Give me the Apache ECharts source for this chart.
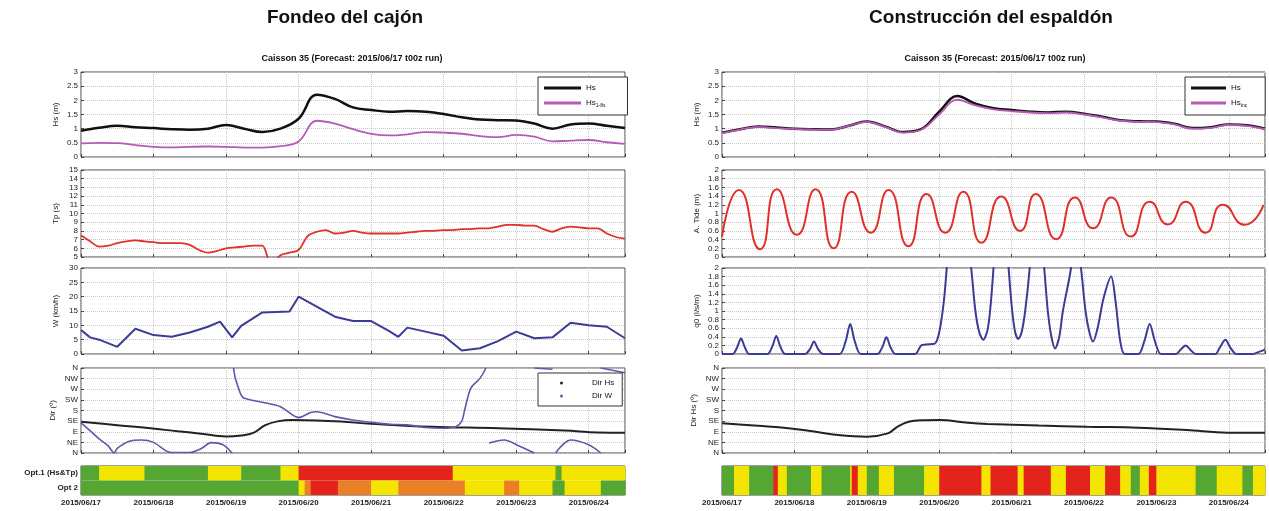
<!DOCTYPE html>
<html>
<head>
<meta charset="utf-8">
<script src="https://cdn.jsdelivr.net/npm/echarts@6/dist/echarts.min.js"></script>
<style>
html, body { margin: 0; padding: 0; background: #fff; }
#main { width: 1269px; height: 511px; }
</style>
</head>
<body>
<div id="main"></div>
<script>
// time in hours since 2015/06/17 00z
var dayLabels = ['2015/06/17', '2015/06/18', '2015/06/19', '2015/06/20', '2015/06/21', '2015/06/22', '2015/06/23', '2015/06/24'];
var dirLabels = ['N', 'NE', 'E', 'SE', 'S', 'SW', 'W', 'NW', 'N'];

var hours6 = [0, 6, 12, 18, 24, 30, 36, 42, 48, 54, 60, 66, 72, 78, 84, 90, 96, 102, 108, 114, 120, 126, 132, 138, 144, 150, 156, 162, 168, 174, 180];
var hours3 = [0, 3, 6, 9, 12, 15, 18, 21, 24, 27, 30, 33, 36, 39, 42, 45, 48, 51, 54, 57, 60, 63, 66, 69, 72, 75, 78, 81, 84, 87,
    90, 93, 96, 99, 102, 105, 108, 111, 114, 117, 120, 123, 126, 129, 132, 135, 138, 141, 144, 147, 150, 153, 156, 159, 162, 165, 168, 171, 174, 177, 180];

// Fondeo del cajon
var hsLeft = [0.93, 1.03, 1.1, 1.05, 1.02, 0.98, 0.96, 1.0, 1.13, 1.0, 0.88, 1.0, 1.35, 2.2, 2.05, 1.75, 1.66, 1.6, 1.62, 1.6, 1.52, 1.4, 1.32, 1.3, 1.29, 1.18, 1.0, 1.15, 1.18, 1.1, 1.02];
var hsLowLeft = [0.48, 0.5, 0.49, 0.42, 0.36, 0.34, 0.36, 0.37, 0.36, 0.33, 0.33, 0.38, 0.55, 1.28, 1.18, 0.98, 0.82, 0.76, 0.8, 0.88, 0.86, 0.82, 0.74, 0.7, 0.78, 0.72, 0.55, 0.58, 0.6, 0.52, 0.46];
var tpLeft = [7.5, 6.8, 6.2, 6.3, 6.6, 6.8, 6.9, 6.8, 6.7, 6.6, 6.6, 6.6, 6.4, 5.8, 5.5, 5.7, 6.0, 6.1, 6.2, 6.3,
    6.3, 4.0, 5.2, 5.5, 5.8, 7.4, 7.9, 8.1, 7.7, 7.8, 8.0, 7.8, 7.7, 7.7, 7.7, 7.7, 7.8, 7.9, 8.0, 8.0,
    8.1, 8.1, 8.2, 8.2, 8.3, 8.3, 8.5, 8.7, 8.7, 8.6, 8.6, 8.2, 7.9, 8.3, 8.5, 8.4, 8.3, 8.3, 7.7, 7.3, 7.1];
var windHours = [0, 3, 6, 12, 18, 24, 30, 36, 42, 46, 50, 53, 60, 69, 72, 78, 84, 90, 96, 102, 105, 108, 114, 120, 126, 132, 138, 144, 150, 156, 162, 168, 174, 180];
var windSpeed = [8.4, 5.8, 5.0, 2.5, 8.8, 6.6, 6.0, 7.5, 9.5, 11.3, 5.8, 9.8, 14.5, 14.8, 20.0, 16.5, 13.0, 11.5, 11.5, 8.0, 6.0, 9.2, 7.8, 6.4, 1.2, 2.0, 4.5, 7.8, 5.5, 5.8, 10.9, 10.0, 9.5, 5.5];
var dirHsLeftHours = [0, 12, 23, 32, 39, 48, 53, 57, 61, 65, 70, 78, 86, 96, 116, 138, 160, 171, 180];
var dirHsLeft = [132, 118, 105, 92, 83, 70, 74, 85, 118, 134, 140, 138, 133, 124, 111, 105, 95, 87, 86];
var dirWHours = [0, 3, 6, 9, 11, 12, 16, 20, 24, 28, 30, 36, 40, 43, 47, 50, 50, 50.5, 51, 52, 53, 54, 60, 66, 72, 76, 78, 84, 90, 96, 102, 108, 114, 120, 124, 126, 127, 129, 132, 134,
    134, 135, 140, 145, 150, 150, 150, 156, 156, 157, 162, 168, 172, 172, 172, 180];
var dirW = [128, 95, 60, 30, 0, 20, 50, 55, 45, 10, 2, 2, 20, 44, 35, 0, null, 360, 320, 280, 245, 232, 215, 196, 150, 172, 175, 154, 140, 130, 122, 119, 108, 105, 111, 135, 185, 275, 316, 360,
    null, 42, 55, 30, 0, null, 360, 355, null, 0, 55, 35, 0, null, 360, 340];

// Construccion del espaldon
var hsRight = [0.86, 0.98, 1.08, 1.04, 1.0, 0.98, 0.97, 1.1, 1.25, 1.08, 0.88, 0.98, 1.6, 2.15, 1.88, 1.72, 1.66, 1.6, 1.57, 1.6, 1.53, 1.42, 1.3, 1.26, 1.25, 1.17, 1.02, 1.05, 1.15, 1.12, 1.0];
var hsIncRight = [0.84, 0.97, 1.06, 1.02, 0.99, 0.97, 0.96, 1.1, 1.24, 1.06, 0.86, 0.96, 1.5, 2.02, 1.82, 1.68, 1.62, 1.57, 1.55, 1.57, 1.5, 1.4, 1.28, 1.24, 1.23, 1.15, 1.0, 1.03, 1.13, 1.1, 0.98];
var tideHours = [0, 5.6, 12.6, 18.2, 24.8, 31, 37, 43, 49.3, 55.2, 61.8, 67.8, 74, 80, 86, 92.6, 98.8, 104, 110.8, 117, 123, 129, 135.5, 141.8, 147.8, 153.7, 160.3, 166, 173.3, 179.5];
var tide = [0.47, 1.54, 0.18, 1.56, 0.51, 1.56, 0.2, 1.5, 0.56, 1.54, 0.25, 1.45, 0.56, 1.5, 0.33, 1.39, 0.6, 1.45, 0.41, 1.37, 0.66, 1.37, 0.47, 1.27, 0.75, 1.27, 0.56, 1.2, 0.74, 1.2];
var q0Hours = [0, 3.5, 5, 6.3, 7.6, 9, 15, 16.7, 18, 19.3, 21, 27.5, 29.2, 30.5, 31.8, 33.5, 39, 41, 42.5, 44, 46, 51.5, 53.2, 54.5, 55.8, 57.5,
    64, 66, 67.5, 70.5, 72, 73.5, 74.5, 76, 78, 80, 82.6, 84, 85.3, 86.6, 88, 89, 90, 91.5, 92.5, 93.5, 95, 96.2, 97.2, 98.2, 99.3, 100.5, 102, 104, 106.8, 108,
    109.2, 110.4, 111.8, 113, 115.7, 117, 119, 120.5, 121.8, 123, 124.5, 126.5, 129, 130.5, 132, 133.5,
    138, 140, 141.8, 143.5, 145.5, 150.5, 152, 153.7, 155.5, 157, 163.5, 165, 166.9, 168.5, 170.5, 176, 178, 180];
var q0 = [0, 0, 0.15, 0.36, 0.15, 0, 0, 0.18, 0.42, 0.18, 0, 0, 0.12, 0.29, 0.12, 0, 0, 0.3, 0.7, 0.3, 0, 0, 0.17, 0.39, 0.17, 0,
    0, 0.2, 0.22, 0.24, 0.5, 1.2, 2.0, 3.5, 4.5, 3.5, 2.0, 1.0, 0.5, 0.33, 0.55, 1.1, 2.0, 3.5, 4, 3.5, 2.0, 1.0, 0.5, 0.35, 0.5, 1.0, 2.0, 4, 2.0, 1.0,
    0.4, 0.13, 0.4, 1.0, 2.0, 3, 2.0, 1.0, 0.5, 0.29, 0.6, 1.3, 1.8, 1.2, 0.3, 0,
    0, 0.3, 0.7, 0.3, 0, 0, 0.1, 0.2, 0.08, 0, 0, 0.15, 0.33, 0.15, 0, 0, 0.05, 0.1];
var dirHsRightHours = [0, 12, 22, 30, 38.5, 48, 55, 58, 61.8, 66, 72, 81.6, 88, 105, 121, 138, 154, 167.6, 180];
var dirHsRight = [126, 115, 105, 92, 76, 69, 83, 110, 132, 139, 140, 128, 123, 116, 111, 107, 97, 86, 86];

// status bars: [start h, end h, level] level 0 ok, 1 caution, 2 warning, 3 stop
var levelColors = ['#55a632', '#f3e500', '#e98026', '#e3231c'];
var optRowsLeft = ['Opt 2', 'Opt.1 (Hs&Tp)'];
var opt1Left = [[0, 6, 0], [6, 21, 1], [21, 42, 0], [42, 53, 1], [53, 66, 0], [66, 72, 1], [72, 123, 3], [123, 157, 1], [157, 159, 0], [159, 180, 1]];
var opt2Left = [[0, 72, 0], [72, 74, 1], [74, 76, 2], [76, 85, 3], [85, 96, 2], [96, 105, 1], [105, 127, 2], [127, 140, 1], [140, 145, 2], [145, 156, 1], [156, 160, 0], [160, 172, 1], [172, 180, 0]];
var optRight = [[0, 4, 0], [4, 9, 1], [9, 17, 0], [17, 18.5, 3], [18.5, 21.5, 1], [21.5, 29.5, 0], [29.5, 33, 1], [33, 42.5, 0], [42.5, 43, 1], [43, 45, 3], [45, 48, 1],
    [48, 52, 0], [52, 57, 1], [57, 67, 0], [67, 72, 1], [72, 86, 3], [86, 89, 1], [89, 98, 3], [98, 100, 1], [100, 109, 3], [109, 114, 1], [114, 122, 3],
    [122, 127, 1], [127, 132, 3], [132, 135.5, 1], [135.5, 138.5, 0], [138.5, 141.5, 1], [141.5, 144, 3], [144, 157, 1], [157, 164, 0], [164, 172.5, 1], [172.5, 176, 0], [176, 180, 1]];

function pairs(xs, ys) {
    return xs.map(function (x, i) { return ys[i] == null ? [x, '-'] : [x, ys[i]]; });
}
function segs(list, row) {
    return list.map(function (s) { return [s[0], s[1], row, s[2]]; });
}

var chart = echarts.init(document.getElementById('main'));
var font = 'Liberation Sans, Arial, sans-serif';
var panelTops = [72, 170, 268, 368, 466];
var panelHeights = [85, 87, 86, 85, 29];

var grids = [], xAxes = [], yAxes = [];
[81, 722].forEach(function (left, side) {
    panelTops.forEach(function (top, k) {
        grids.push({
            left: left, top: top, width: side === 0 ? 544 : 543, height: panelHeights[k],
            show: true, borderColor: '#444', borderWidth: 1, backgroundColor: '#fff'
        });
        var isBar = k === 4;
        xAxes.push({
            type: 'value', gridIndex: grids.length - 1, min: 0, max: 180, interval: 24,
            axisLine: { show: false },
            axisTick: { show: !isBar, inside: true, length: 3, lineStyle: { color: '#444' } },
            axisLabel: {
                show: isBar, margin: 4, fontSize: 8, fontWeight: 'bold', color: '#222',
                formatter: function (v) { return v % 24 === 0 ? dayLabels[v / 24] : ''; }
            },
            splitLine: { show: !isBar, lineStyle: { color: '#c8c8c8', type: 'dotted' } }
        });
    });
});

function yAx(gi, min, max, interval, name, gap, fmt) {
    return {
        type: 'value', gridIndex: gi, min: min, max: max, interval: interval,
        name: name, nameLocation: 'middle', nameGap: gap, nameRotate: 90,
        nameTextStyle: { fontSize: 8, color: '#222' },
        axisLine: { show: false },
        axisTick: { show: true, inside: true, length: 3, lineStyle: { color: '#444' } },
        axisLabel: { fontSize: 8, color: '#222', margin: 3, formatter: fmt },
        splitLine: { show: true, lineStyle: { color: '#c8c8c8', type: 'dotted' } }
    };
}
var dirFmt = function (v) { return dirLabels[Math.round(v / 45)]; };
yAxes.push(yAx(0, 0, 3, 0.5, 'Hs (m)', 21));
yAxes.push(yAx(1, 5, 15, 1, 'Tp (s)', 21));
yAxes.push(yAx(2, 0, 30, 5, 'W (km/h)', 21));
yAxes.push(yAx(3, 0, 360, 45, 'Dir (º)', 24, dirFmt));
yAxes.push({
    type: 'category', gridIndex: 4, data: optRowsLeft,
    axisLine: { show: false }, axisTick: { show: false },
    axisLabel: { fontSize: 8, fontWeight: 'bold', color: '#222', margin: 3 }
});
yAxes.push(yAx(5, 0, 3, 0.5, 'Hs (m)', 21));
yAxes.push(yAx(6, 0, 2, 0.2, 'A. Tide (m)', 21));
yAxes.push(yAx(7, 0, 2, 0.2, 'q0 (l/s/m)', 21));
yAxes.push(yAx(8, 0, 360, 45, 'Dir Hs (º)', 24, dirFmt));
yAxes.push({
    type: 'category', gridIndex: 9, data: [''],
    axisLine: { show: false }, axisTick: { show: false }, axisLabel: { show: false }
});

function line(name, gi, data, color, width, smooth) {
    return {
        name: name, type: 'line', xAxisIndex: gi, yAxisIndex: gi, data: data,
        showSymbol: false, smooth: smooth, color: color,
        lineStyle: { color: color, width: width }, clip: true
    };
}
function renderSeg(params, api) {
    var row = api.value(2);
    var p0 = api.coord([api.value(0), row]);
    var p1 = api.coord([api.value(1), row]);
    var h = api.size([0, 1])[1];
    return {
        type: 'rect',
        shape: { x: p0[0], y: p0[1] - h / 2, width: p1[0] - p0[0] + 0.5, height: h },
        style: { fill: levelColors[api.value(3)] }
    };
}
function bars(gi, data) {
    return {
        type: 'custom', xAxisIndex: gi, yAxisIndex: gi, renderItem: renderSeg,
        encode: { x: [0, 1], y: 2 }, data: data
    };
}

var series = [
    line('Hs', 0, pairs(hours6, hsLeft), '#111111', 2.5, 0.4),
    line('Hs 1-8s', 0, pairs(hours6, hsLowLeft), '#b65ab6', 1.8, 0.4),
    line('Tp', 1, pairs(hours3, tpLeft), '#e0302a', 1.8, 0.3),
    line('W', 2, pairs(windHours, windSpeed), '#3c3c96', 2, false),
    line('Dir Hs', 3, pairs(dirHsLeftHours, dirHsLeft), '#222222', 2, 0.4),
    line('Dir W', 3, pairs(dirWHours, dirW), '#5a5aac', 1.6, 0.3),
    bars(4, segs(opt1Left, 1).concat(segs(opt2Left, 0))),
    line('Hs', 5, pairs(hours6, hsRight), '#111111', 2.5, 0.4),
    line('Hs inc', 5, pairs(hours6, hsIncRight), '#b65ab6', 1.8, 0.4),
    line('A. Tide', 6, pairs(tideHours, tide), '#e0302a', 2, 0.6),
    line('q0', 7, pairs(q0Hours, q0), '#3c3c96', 2, 0.3),
    line('Dir Hs', 8, pairs(dirHsRightHours, dirHsRight), '#222222', 2, 0.4),
    bars(9, segs(optRight, 0))
];

var legendBase = {
    orient: 'vertical', backgroundColor: '#fff', borderColor: '#333', borderWidth: 1,
    itemGap: 7, textStyle: { fontSize: 8, color: '#111', rich: { m: { fontSize: 8 }, s: { fontSize: 5, padding: [5, 0, 0, 0] } } },
    formatter: function (n) {
        if (n === 'Hs 1-8s') return '{m|Hs}{s|1-8s}';
        if (n === 'Hs inc') return '{m|Hs}{s|inc}';
        return n;
    }
};
var legends = [
    echarts.util.extend({ left: 538, top: 77, padding: [7, 22, 7, 6], itemWidth: 37, itemHeight: 3, icon: 'rect', data: ['Hs', 'Hs 1-8s'] }, legendBase),
    echarts.util.extend({ left: 538, top: 373, padding: [6, 8, 6, 22], itemWidth: 3, itemHeight: 3, icon: 'circle', data: ['Dir Hs', 'Dir W'] }, legendBase),
    echarts.util.extend({ left: 1185, top: 77, padding: [7, 18, 7, 6], itemWidth: 35, itemHeight: 3, icon: 'rect', data: ['Hs', 'Hs inc'] }, legendBase)
];
legends[1].itemGap = 5;
legends[1].textStyle = { fontSize: 8, color: '#111', padding: [0, 0, 0, 24] };

var titles = [
    { x: 345, y: 8, text: 'Fondeo del cajón', size: 19 },
    { x: 991, y: 8, text: 'Construcción del espaldón', size: 19 },
    { x: 352, y: 54, text: 'Caisson 35 (Forecast: 2015/06/17 t00z run)', size: 9 },
    { x: 995, y: 54, text: 'Caisson 35 (Forecast: 2015/06/17 t00z run)', size: 9 }
];

chart.setOption({
    animation: false,
    textStyle: { fontFamily: font },
    grid: grids,
    xAxis: xAxes,
    yAxis: yAxes,
    legend: legends,
    series: series,
    graphic: titles.map(function (t) {
        return {
            type: 'text', x: t.x, y: t.y,
            style: { text: t.text, textAlign: 'center', fill: '#111', font: 'bold ' + t.size + 'px ' + font }
        };
    })
});
</script>
</body>
</html>
